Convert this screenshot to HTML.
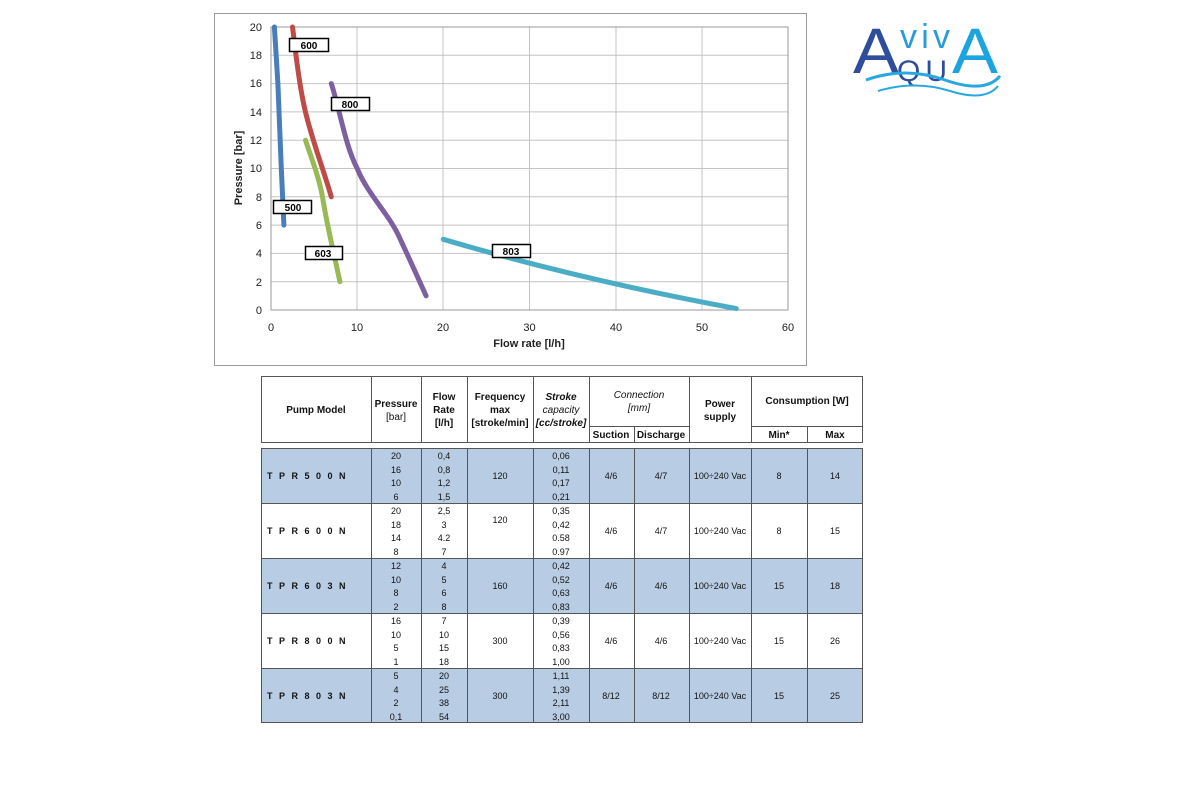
<!DOCTYPE html>
<html><head><meta charset="utf-8"><style>
html,body{margin:0;padding:0;background:#fff;}
svg{display:block;font-family:"Liberation Sans",Arial,sans-serif;}
</style></head><body>
<svg width="1200" height="800" viewBox="0 0 1200 800" xmlns="http://www.w3.org/2000/svg">
<rect x="214.5" y="13.5" width="592" height="352" fill="#fff" stroke="#9a9a9a" stroke-width="1"/>
<g stroke="#c4c4c4" stroke-width="1">
<line x1="357" y1="27" x2="357" y2="310"/><line x1="443" y1="27" x2="443" y2="310"/>
<line x1="529.5" y1="27" x2="529.5" y2="310"/><line x1="616" y1="27" x2="616" y2="310"/>
<line x1="702" y1="27" x2="702" y2="310"/>
<line x1="271" y1="55.3" x2="788" y2="55.3"/><line x1="271" y1="83.6" x2="788" y2="83.6"/>
<line x1="271" y1="111.9" x2="788" y2="111.9"/><line x1="271" y1="140.2" x2="788" y2="140.2"/>
<line x1="271" y1="168.5" x2="788" y2="168.5"/><line x1="271" y1="196.8" x2="788" y2="196.8"/>
<line x1="271" y1="225.1" x2="788" y2="225.1"/><line x1="271" y1="253.4" x2="788" y2="253.4"/>
<line x1="271" y1="281.7" x2="788" y2="281.7"/>
</g>
<rect x="271" y="27" width="517" height="283" fill="none" stroke="#9a9a9a"/>
<g font-size="11" fill="#222" text-anchor="end">
<text x="262" y="31">20</text><text x="262" y="59">18</text><text x="262" y="87">16</text>
<text x="262" y="116">14</text><text x="262" y="144">12</text><text x="262" y="172">10</text>
<text x="262" y="201">8</text><text x="262" y="229">6</text><text x="262" y="257">4</text>
<text x="262" y="286">2</text><text x="262" y="314">0</text>
</g>
<g font-size="11" fill="#222" text-anchor="middle">
<text x="271" y="331">0</text><text x="357" y="331">10</text><text x="443" y="331">20</text>
<text x="529.5" y="331">30</text><text x="616" y="331">40</text><text x="702" y="331">50</text><text x="788" y="331">60</text>
</g>
<text x="529" y="347" font-size="11" font-weight="bold" text-anchor="middle" fill="#222">Flow rate [l/h]</text>
<text transform="translate(242,168) rotate(-90)" font-size="11" font-weight="bold" text-anchor="middle" fill="#222">Pressure [bar]</text>
<g fill="none" stroke-width="5" stroke-linecap="round" stroke-linejoin="round">
<polyline stroke="#4a7ebb" points="274.4,27 277.9,83.6 281.3,168.5 283.9,225.1"/>
<path stroke="#be4b48" d="M292.5,27 C295,45 298,80 305,110 C312,140 322,165 331.3,196.8"/>
<path stroke="#98b954" d="M305.5,140.2 C312,160 320,180 323,200 C328,230 335,258 339.9,281.7"/>
<path stroke="#7d60a0" d="M331.3,83.6 C340,110 345,145 357.2,168.5 C368,195 390,215 400.3,239.3 C410,260 418,278 426.1,295.9"/>
<path stroke="#4bacc6" d="M443.3,239.3 C520,262 620,287 736.3,308.6"/>
</g>
<g font-size="10" font-weight="bold" text-anchor="middle" fill="#000">
<rect x="289.5" y="38.5" width="39" height="13" fill="#fff" stroke="#000" stroke-width="1.5"/><text x="309" y="49">600</text>
<rect x="331.5" y="97.5" width="38" height="13" fill="#fff" stroke="#000" stroke-width="1.5"/><text x="350" y="108">800</text>
<rect x="273.5" y="200.5" width="38" height="13" fill="#fff" stroke="#000" stroke-width="1.5"/><text x="293" y="211">500</text>
<rect x="305.5" y="246.5" width="37" height="13" fill="#fff" stroke="#000" stroke-width="1.5"/><text x="323" y="257">603</text>
<rect x="492.5" y="244.5" width="38" height="13" fill="#fff" stroke="#000" stroke-width="1.5"/><text x="511" y="255">803</text>
</g>
<!-- logo -->
<text x="853" y="73" font-size="64" fill="#2e4d9a" textLength="46" lengthAdjust="spacingAndGlyphs">A</text>
<text x="900" y="48" font-size="34" fill="#2a9bd6" textLength="50" lengthAdjust="spacing">viv</text>
<text x="952" y="73" font-size="64" fill="#1ba4e0" textLength="46" lengthAdjust="spacingAndGlyphs">A</text>
<text x="897" y="81" font-size="30" fill="#2e4d9a" textLength="50" lengthAdjust="spacing">QU</text>
<path d="M866 80 Q905 66 945 80 T1000 76" fill="none" stroke="#29a8e0" stroke-width="3"/>
<path d="M878 91 Q915 80 950 91 T998 86" fill="none" stroke="#29a8e0" stroke-width="2"/>
<!-- table header -->
<g stroke="#555" stroke-width="1" fill="none">
<rect x="261.5" y="376.5" width="601" height="66"/>
<line x1="371.5" y1="376" x2="371.5" y2="443"/><line x1="421.5" y1="376" x2="421.5" y2="443"/>
<line x1="467.5" y1="376" x2="467.5" y2="443"/><line x1="533.5" y1="376" x2="533.5" y2="443"/>
<line x1="589.5" y1="376" x2="589.5" y2="443"/><line x1="634.5" y1="426" x2="634.5" y2="443"/>
<line x1="689.5" y1="376" x2="689.5" y2="443"/><line x1="751.5" y1="376" x2="751.5" y2="443"/>
<line x1="807.5" y1="426" x2="807.5" y2="443"/>
<line x1="589" y1="426.5" x2="689" y2="426.5"/><line x1="751" y1="426.5" x2="863" y2="426.5"/>
</g>
<g font-size="10" font-weight="bold" text-anchor="middle" fill="#111">
<text x="316" y="413">Pump Model</text>
<text x="396" y="407">Pressure</text><text x="396" y="420" font-weight="normal">[bar]</text>
<text x="444" y="400">Flow</text><text x="444" y="413">Rate</text><text x="444" y="426">[l/h]</text>
<text x="500" y="400">Frequency</text><text x="500" y="413">max</text><text x="500" y="426">[stroke/min]</text>
<text x="561" y="400" font-style="italic">Stroke</text><text x="561" y="413" font-style="italic" font-weight="normal">capacity</text><text x="561" y="426" font-style="italic">[cc/stroke]</text>
<text x="639" y="398" font-style="italic" font-weight="normal">Connection</text><text x="639" y="411" font-style="italic" font-weight="normal">[mm]</text>
<text x="611" y="438">Suction</text><text x="661" y="438">Discharge</text>
<text x="720" y="407">Power</text><text x="720" y="420">supply</text>
<text x="807" y="404">Consumption [W]</text>
<text x="779" y="438">Min*</text><text x="835" y="438">Max</text>
</g>
<rect x="261" y="448" width="602" height="55" fill="#b8cce4"/>
<rect x="261" y="558" width="602" height="55" fill="#b8cce4"/>
<rect x="261" y="668" width="602" height="55" fill="#b8cce4"/>
<g stroke="#555" stroke-width="1" fill="none">
<rect x="261.5" y="448.5" width="601" height="274"/>
<line x1="261" y1="503.5" x2="863" y2="503.5"/><line x1="261" y1="558.5" x2="863" y2="558.5"/>
<line x1="261" y1="613.5" x2="863" y2="613.5"/><line x1="261" y1="668.5" x2="863" y2="668.5"/>
<line x1="371.5" y1="448" x2="371.5" y2="723"/><line x1="421.5" y1="448" x2="421.5" y2="723"/>
<line x1="467.5" y1="448" x2="467.5" y2="723"/><line x1="533.5" y1="448" x2="533.5" y2="723"/>
<line x1="589.5" y1="448" x2="589.5" y2="723"/><line x1="634.5" y1="448" x2="634.5" y2="723"/>
<line x1="689.5" y1="448" x2="689.5" y2="723"/><line x1="751.5" y1="448" x2="751.5" y2="723"/>
<line x1="807.5" y1="448" x2="807.5" y2="723"/>
</g>
<g font-size="9" fill="#111" text-anchor="middle">
<text x="396" y="459">20</text><text x="396" y="473">16</text><text x="396" y="486">10</text><text x="396" y="500">6</text>
<text x="444" y="459">0,4</text><text x="444" y="473">0,8</text><text x="444" y="486">1,2</text><text x="444" y="500">1,5</text>
<text x="500" y="479">120</text>
<text x="561" y="459">0,06</text><text x="561" y="473">0,11</text><text x="561" y="486">0,17</text><text x="561" y="500">0,21</text>
<text x="611" y="479">4/6</text><text x="661" y="479">4/7</text><text x="720" y="479">100÷240 Vac</text><text x="779" y="479">8</text><text x="835" y="479">14</text>
<text x="396" y="514">20</text><text x="396" y="528">18</text><text x="396" y="541">14</text><text x="396" y="555">8</text>
<text x="444" y="514">2,5</text><text x="444" y="528">3</text><text x="444" y="541">4.2</text><text x="444" y="555">7</text>
<text x="500" y="523">120</text>
<text x="561" y="514">0,35</text><text x="561" y="528">0,42</text><text x="561" y="541">0.58</text><text x="561" y="555">0.97</text>
<text x="611" y="534">4/6</text><text x="661" y="534">4/7</text><text x="720" y="534">100÷240 Vac</text><text x="779" y="534">8</text><text x="835" y="534">15</text>
<text x="396" y="569">12</text><text x="396" y="583">10</text><text x="396" y="596">8</text><text x="396" y="610">2</text>
<text x="444" y="569">4</text><text x="444" y="583">5</text><text x="444" y="596">6</text><text x="444" y="610">8</text>
<text x="500" y="589">160</text>
<text x="561" y="569">0,42</text><text x="561" y="583">0,52</text><text x="561" y="596">0,63</text><text x="561" y="610">0,83</text>
<text x="611" y="589">4/6</text><text x="661" y="589">4/6</text><text x="720" y="589">100÷240 Vac</text><text x="779" y="589">15</text><text x="835" y="589">18</text>
<text x="396" y="624">16</text><text x="396" y="638">10</text><text x="396" y="651">5</text><text x="396" y="665">1</text>
<text x="444" y="624">7</text><text x="444" y="638">10</text><text x="444" y="651">15</text><text x="444" y="665">18</text>
<text x="500" y="644">300</text>
<text x="561" y="624">0,39</text><text x="561" y="638">0,56</text><text x="561" y="651">0,83</text><text x="561" y="665">1,00</text>
<text x="611" y="644">4/6</text><text x="661" y="644">4/6</text><text x="720" y="644">100÷240 Vac</text><text x="779" y="644">15</text><text x="835" y="644">26</text>
<text x="396" y="679">5</text><text x="396" y="693">4</text><text x="396" y="706">2</text><text x="396" y="720">0,1</text>
<text x="444" y="679">20</text><text x="444" y="693">25</text><text x="444" y="706">38</text><text x="444" y="720">54</text>
<text x="500" y="699">300</text>
<text x="561" y="679">1,11</text><text x="561" y="693">1,39</text><text x="561" y="706">2,11</text><text x="561" y="720">3,00</text>
<text x="611" y="699">8/12</text><text x="661" y="699">8/12</text><text x="720" y="699">100÷240 Vac</text><text x="779" y="699">15</text><text x="835" y="699">25</text>
</g>
<g font-size="9" font-weight="bold" fill="#111" letter-spacing="6.5">
<text x="267" y="479">TPR500N</text>
<text x="267" y="534">TPR600N</text>
<text x="267" y="589">TPR603N</text>
<text x="267" y="644">TPR800N</text>
<text x="267" y="699">TPR803N</text>
</g>
</svg>
</body></html>
